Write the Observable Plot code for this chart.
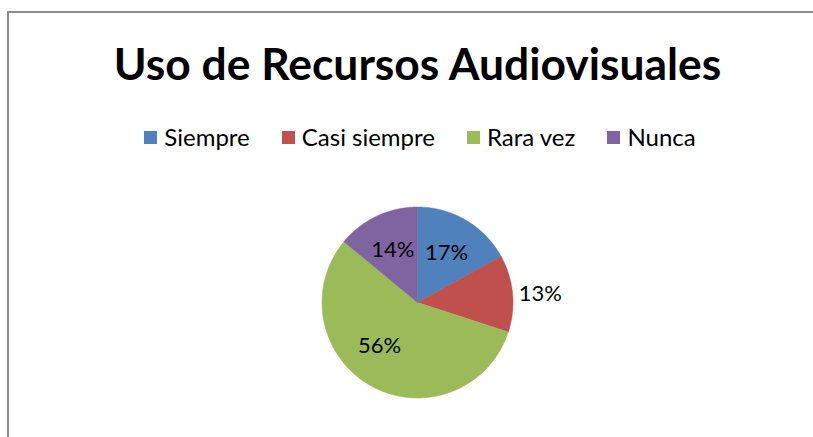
<!DOCTYPE html>
<html>
<head>
<meta charset="utf-8">
<script src="https://cdn.jsdelivr.net/npm/d3@7"></script>
<script src="https://cdn.jsdelivr.net/npm/@observablehq/plot@0.6"></script>
<style>
  html, body { margin: 0; padding: 0; background: #fff; }
  body { width: 813px; height: 437px; overflow: hidden; position: relative; font-family: Lato, "Open Sans", sans-serif; }
  #frame { position: absolute; left: 7px; top: 11px; width: 900px; height: 600px; border: 2px solid #8c8c8c; box-sizing: border-box; }
  #title { position: absolute; left: 0; width: 835px; text-align: center; font-weight: 700; color: #000; white-space: nowrap; }
  #legend { position: absolute; left: 0; width: 840px; display: flex; justify-content: center; align-items: center; color: #000; white-space: nowrap; }
  .item { display: flex; align-items: center; margin: 0 16px; }
  .sw { width: 13px; height: 13px; margin-right: 7px; }
  #chart { position: absolute; left: 0; top: 0; }
</style>
</head>
<body>
<div id="frame"></div>
<div id="chart"></div>
<div id="title">Uso de Recursos Audiovisuales</div>
<div id="legend"></div>
<script>
// ---- data ----
const titleText = "Uso de Recursos Audiovisuales";
const categories = ["Siempre", "Casi siempre", "Rara vez", "Nunca"];
const values = [17, 13, 56, 14];
const colors = ["#4F81BD", "#C0504D", "#9BBB59", "#8064A2"];

// ---- layout ----
const W = 813, H = 437;
const cx = 417, cy = 302, R = 95.5;           // pie centre / radius in px
const labelLayout = {                          // label radius (px) and angle nudge (deg)
  "Siempre": {r: 57, da: 0},
  "Casi siempre": {r: 123, da: 1.5},
  "Rara vez": {r: 58, da: 12},
  "Nunca": {r: 58, da: 0}
};

const total = d3.sum(values);
let acc = 0;
const slices = categories.map((c, i) => {
  const a0 = acc / total * 2 * Math.PI;
  acc += values[i];
  const a1 = acc / total * 2 * Math.PI;
  return {category: c, value: values[i], a0, a1, color: colors[i]};
});

// polygon points for each slice (unit radius), angle clockwise from north
const pts = [];
slices.forEach(s => {
  pts.push({category: s.category, x: 0, y: 0});
  const n = Math.max(2, Math.ceil((s.a1 - s.a0) / (Math.PI / 360)));
  for (let k = 0; k <= n; k++) {
    const a = s.a0 + (s.a1 - s.a0) * k / n;
    pts.push({category: s.category, x: Math.sin(a), y: Math.cos(a)});
  }
  pts.push({category: s.category, x: 0, y: 0});
});

const labels = slices.map(s => {
  const L = labelLayout[s.category];
  const a = (s.a0 + s.a1) / 2 + L.da * Math.PI / 180;
  return {category: s.category, text: Math.round(s.value / total * 100) + "%", x: Math.sin(a) * L.r / R, y: Math.cos(a) * L.r / R};
});

const chart = Plot.plot({
  width: W, height: H,
  margin: 0,
  x: {domain: [-cx / R, (W - cx) / R], axis: null},
  y: {domain: [-(H - cy) / R, cy / R], axis: null},
  color: {domain: categories, range: colors},
  style: {background: "transparent", overflow: "visible"},
  marks: [
    ...slices.map(s => Plot.line(pts.filter(p => p.category === s.category), {
      x: "x", y: "y", fill: s.color, stroke: s.color, strokeWidth: 0.5, curve: "linear"
    })),
    Plot.text(labels, {x: "x", y: "y", text: "text", fill: "#000", fontSize: 22, fontFamily: "Lato, 'Open Sans', sans-serif", textAnchor: "middle", lineAnchor: "middle"})
  ]
});
document.getElementById("chart").appendChild(chart);

// title, fitted to the reference width
const title = document.getElementById("title");
title.textContent = titleText;
const ctx = document.createElement("canvas").getContext("2d");
function fit(text, weight, targetW) {
  ctx.font = `${weight} 100px Lato`;
  return 100 * targetW / ctx.measureText(text).width;
}
const tSize = Math.min(46, fit(titleText, 700, 609));
title.style.fontSize = tSize + "px";
title.style.lineHeight = "1";
title.style.top = (79 - tSize * 0.86) + "px";

// legend
const legend = document.getElementById("legend");
categories.forEach((c, i) => {
  const it = document.createElement("div");
  it.className = "item";
  it.innerHTML = `<div class="sw" style="background:${colors[i]}"></div><span>${c}</span>`;
  legend.appendChild(it);
});
legend.style.fontSize = "24px";
legend.style.lineHeight = "1";
legend.style.top = "125px";
</script>
</body>
</html>
